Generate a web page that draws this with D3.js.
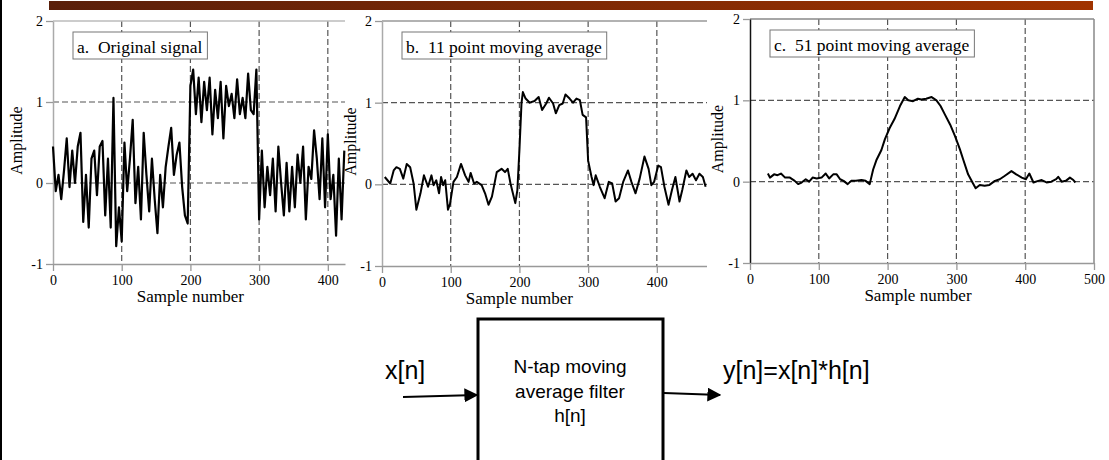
<!DOCTYPE html>
<html>
<head>
<meta charset="utf-8">
<script src="https://cdn.jsdelivr.net/npm/d3@7"></script>
<style>
  body { margin: 0; background: #fff; }
  svg { display: block; }
</style>
</head>
<body>
<svg id="chart" width="1109" height="460"></svg>
<script>
// ---- data ----
// original signal, one value every 4 samples starting at sample 0
const originalStep = 4;
const originalSignal = [
  0.45, -0.1, 0.1, -0.2, 0.15, 0.55, -0.05, 0.4, 0.0, 0.45,
  0.62, -0.48, 0.1, -0.55, 0.3, 0.4, -0.15, 0.45, 0.52, -0.4,
  0.3, -0.55, 1.05, -0.78, -0.3, -0.72, 0.5, -0.1, 0.3, 0.78,
  -0.25, 0.2, -0.45, 0.62, 0.1, -0.35, 0.3, -0.2, -0.62, 0.1,
  -0.3, 0.2, 0.45, 0.68, 0.1, 0.35, 0.5, -0.05, -0.4, -0.5,
  1.2, 1.4, 0.85, 1.3, 0.75, 1.25, 0.9, 1.3, 0.6, 1.15,
  0.8, 1.25, 0.55, 1.2, 0.95, 1.1, 0.8, 1.28, 0.85, 1.05,
  0.8, 1.35, 0.9, 0.85, 1.4,
  -0.45, 0.4, -0.3, 0.2, -0.15, 0.3, -0.35, 0.45, 0.0, -0.4,
  0.25, -0.35, 0.2, -0.3, 0.35, 0.0, 0.45, -0.45, 0.2, 0.05,
  0.65, 0.3, -0.2, 0.55, -0.3, 0.6, -0.2, 0.1, -0.65, 0.3,
  -0.45, 0.4
];

// [sample, amplitude]
const average11 = [
  [4,0.09],[12,0.01],[17,0.17],[21,0.21],[26,0.19],[31,0.07],[36,0.25],[41,0.21],[46,0.01],[50,-0.31],
  [56,-0.11],[61,0.11],[67,-0.03],[72,0.11],[75,-0.01],[79,0.05],[83,-0.11],[86,0.09],[89,-0.01],[92,0.05],
  [96,-0.31],[99,-0.24],[104,0.03],[109,0.09],[115,0.25],[121,0.11],[126,0.03],[129,0.14],[134,0.01],[138,0.03],
  [145,-0.01],[150,-0.11],[155,-0.25],[160,-0.15],[167,0.15],[174,0.19],[179,0.15],[183,0.19],[187,0.01],[194,-0.23],
  [197,-0.07],[200,0.42],[203,0.99],[205,1.13],[209,1.05],[215,1.0],[222,1.02],[228,1.07],[233,0.91],[239,0.99],
  [243,1.06],[249,0.99],[253,0.87],[258,0.97],[263,0.99],[267,1.1],[273,1.05],[278,1.0],[283,1.05],[288,1.03],
  [292,0.85],[297,0.82],[300,0.29],[305,0.09],[308,-0.01],[311,0.11],[317,-0.03],[324,-0.17],[330,0.03],[335,0.01],
  [340,-0.21],[345,-0.17],[351,0.03],[358,0.17],[363,0.03],[369,-0.11],[375,0.07],[382,0.34],[388,0.19],[392,-0.01],
  [396,0.03],[402,0.23],[406,0.21],[411,-0.03],[417,-0.25],[422,-0.07],[427,0.09],[433,-0.21],[437,-0.07],[443,0.17],
  [447,0.09],[452,0.13],[457,0.05],[462,0.13],[467,0.09],[471,-0.03]
];

const average51 = [
  [26,0.1],[29,0.05],[35,0.09],[40,0.08],[45,0.1],[51,0.05],[58,0.05],[65,0.01],[70,-0.03],[75,-0.01],
  [81,0.03],[86,0.0],[91,0.05],[97,0.04],[104,0.05],[110,0.1],[115,0.04],[121,0.09],[126,0.09],[131,0.03],
  [136,0.01],[142,-0.03],[147,0.01],[154,0.01],[162,0.02],[168,0.01],[174,-0.03],[179,0.15],[184,0.27],[191,0.39],
  [196,0.52],[203,0.66],[210,0.77],[218,0.93],[225,1.04],[230,1.0],[237,0.99],[244,1.02],[249,1.01],[256,1.02],
  [264,1.04],[271,1.0],[277,0.93],[283,0.83],[291,0.7],[298,0.56],[305,0.4],[310,0.27],[317,0.09],[324,-0.02],
  [328,-0.08],[334,-0.04],[341,-0.05],[348,-0.04],[356,0.01],[363,0.03],[370,0.07],[380,0.13],[387,0.09],[395,0.05],
  [401,0.03],[406,0.1],[412,-0.01],[419,0.01],[424,0.02],[431,-0.01],[438,0.0],[445,0.03],[448,0.06],[453,0.0],
  [459,0.01],[465,0.05],[470,0.02],[473,-0.01]
];

const yTicks = [-1, 0, 1, 2];
const yGrid = [0, 1];
const xTicksShort = [0, 100, 200, 300, 400];
const xTicksLong = [0, 100, 200, 300, 400, 500];
const xGrid = [100, 200, 300, 400];
const titles = ["a.  Original signal", "b.  11 point moving average", "c.  51 point moving average"];
const xLabel = "Sample number";
const yLabel = "Amplitude";

const svg = d3.select("#chart");
const serif = "'Liberation Serif', 'Times New Roman', serif";
const sans = "'Liberation Sans', Arial, sans-serif";

// slide frame: dark strip on the left and the brown title bar
svg.append("rect").attr("x", 0).attr("y", 0).attr("width", 2).attr("height", 460).attr("fill", "#000");
const defs = svg.append("defs");
const grad = defs.append("linearGradient").attr("id", "bar");
grad.append("stop").attr("offset", "0%").attr("stop-color", "#5a1f0a");
grad.append("stop").attr("offset", "100%").attr("stop-color", "#a03300");
svg.append("rect").attr("x", 49).attr("y", 1).attr("width", 1044).attr("height", 9).attr("fill", "url(#bar)");

function drawPanel(p) {
    const g = svg.append("g");

    if (p.bg) {
        g.append("rect").attr("x", p.bg[0]).attr("y", p.bg[1])
            .attr("width", p.bg[2]).attr("height", p.bg[3]).attr("fill", "#fff");
    }

    const x = d3.scaleLinear().domain([0, p.xMax]).range([p.left, p.right]);
    const y = d3.scaleLinear().domain([-1, 2]).range([p.bottom, p.top]);

    // dashed grid
    g.selectAll(".gx").data(xGrid).enter().append("line")
        .attr("x1", d => x(d)).attr("x2", d => x(d))
        .attr("y1", y(2)).attr("y2", y(-1))
        .attr("stroke", "#555").attr("stroke-width", 1.2).attr("stroke-dasharray", "6,3");
    g.selectAll(".gy").data(yGrid).enter().append("line")
        .attr("x1", x(0)).attr("x2", p.right)
        .attr("y1", d => y(d)).attr("y2", d => y(d))
        .attr("stroke", "#555").attr("stroke-width", 1.2).attr("stroke-dasharray", "6,3");

    // frame
    g.append("line").attr("x1", p.left).attr("x2", p.right).attr("y1", y(2)).attr("y2", y(2))
        .attr("stroke", p.frameColor).attr("stroke-width", 1.5);
    if (p.rightBorder) {
        g.append("line").attr("x1", p.right).attr("x2", p.right).attr("y1", y(2)).attr("y2", y(-1))
            .attr("stroke", p.frameColor).attr("stroke-width", 1.5);
    }

    const yAxis = g.append("g")
        .attr("transform", `translate(${p.left},0)`)
        .call(d3.axisLeft(y).tickValues(yTicks).tickFormat(d => String(d))
            .tickSize(7).tickSizeOuter(0).tickPadding(3));
    yAxis.select(".domain").attr("stroke", p.yAxisColor).attr("stroke-width", 1.5);
    yAxis.selectAll(".tick line").attr("stroke", "#999").attr("stroke-width", 1.3);

    const xAxis = g.append("g")
        .attr("transform", `translate(0,${p.bottom})`)
        .call(d3.axisBottom(x).tickValues(p.xTicks).tickSize(7).tickSizeOuter(0).tickPadding(4));
    xAxis.select(".domain").attr("stroke", "#999").attr("stroke-width", 1.5);
    xAxis.selectAll(".tick line").attr("stroke", "#999").attr("stroke-width", 1.3);

    g.selectAll(".tick text").attr("font-family", serif).attr("font-size", 14).attr("fill", "#000");

    // signal
    const line = d3.line().x(d => x(d[0])).y(d => y(d[1]));
    g.append("path").datum(p.data).attr("d", line)
        .attr("fill", "none").attr("stroke", "#000").attr("stroke-width", p.lineWidth)
        .attr("stroke-linejoin", "round");

    // title box
    const box = g.append("rect");
    const title = g.append("text")
        .attr("x", p.left + 24).attr("y", y(2) + 32)
        .attr("font-family", serif).attr("font-size", 17.5)
        .style("white-space", "pre")
        .text(p.title);
    const tw = title.node().getComputedTextLength();
    box.attr("x", p.left + 20).attr("y", y(2) + 11)
        .attr("width", tw + 9).attr("height", 27)
        .attr("fill", "#fff").attr("stroke", "#777").attr("stroke-width", 1);

    // axis labels
    g.append("text")
        .attr("x", (p.left + x(p.xTicks[p.xTicks.length - 1])) / 2 + p.labelShift)
        .attr("y", p.bottom + 38)
        .attr("text-anchor", "middle")
        .attr("font-family", serif).attr("font-size", 17)
        .text(xLabel);
    g.append("text")
        .attr("transform", `translate(${p.yLabelX},${(p.top + p.bottom) / 2 - 2}) rotate(-90)`)
        .attr("text-anchor", "middle")
        .attr("font-family", serif).attr("font-size", 16)
        .text(yLabel);
}

drawPanel({
    left: 53, right: 345, top: 21, bottom: 264, xMax: 425,
    xTicks: xTicksShort, frameColor: "#bbb", yAxisColor: "#aaa", rightBorder: false,
    data: originalSignal.map((v, i) => [i * originalStep, v]), lineWidth: 2.2,
    title: titles[0], labelShift: 0, yLabelX: 22
});

drawPanel({
    bg: [347, 11, 362, 300],
    left: 382, right: 707, top: 21, bottom: 266, xMax: 473,
    xTicks: xTicksShort, frameColor: "#999", yAxisColor: "#aaa", rightBorder: false,
    data: average11, lineWidth: 2,
    title: titles[1], labelShift: 0, yLabelX: 356
});

drawPanel({
    bg: [707, 10, 402, 300],
    left: 750, right: 1094, top: 19, bottom: 263, xMax: 500,
    xTicks: xTicksLong, frameColor: "#888", yAxisColor: "#111", rightBorder: true,
    data: average51, lineWidth: 2,
    title: titles[2], labelShift: -4, yLabelX: 723
});

// block diagram below the plots
const diagram = svg.append("g").attr("font-family", sans).attr("fill", "#000");
diagram.append("rect").attr("x", 478).attr("y", 319).attr("width", 185).attr("height", 200)
    .attr("fill", "none").attr("stroke", "#000").attr("stroke-width", 3);

const marker = defs.append("marker")
    .attr("id", "arrow").attr("viewBox", "0 0 10 10").attr("refX", 9).attr("refY", 5)
    .attr("markerWidth", 7).attr("markerHeight", 7).attr("markerUnits", "strokeWidth")
    .attr("orient", "auto");
marker.append("path").attr("d", "M0,0 L10,5 L0,10 Z").attr("fill", "#000");

diagram.append("line").attr("x1", 403).attr("y1", 397).attr("x2", 477).attr("y2", 395)
    .attr("stroke", "#000").attr("stroke-width", 2).attr("marker-end", "url(#arrow)");
diagram.append("line").attr("x1", 664).attr("y1", 393).attr("x2", 720).attr("y2", 395)
    .attr("stroke", "#000").attr("stroke-width", 2).attr("marker-end", "url(#arrow)");

diagram.append("text").attr("x", 385).attr("y", 379).attr("font-size", 25).text("x[n]");
diagram.append("text").attr("x", 723).attr("y", 379).attr("font-size", 25).text("y[n]=x[n]*h[n]");
const boxLines = ["N-tap moving", "average filter", "h[n]"];
diagram.selectAll(".bl").data(boxLines).enter().append("text")
    .attr("x", 570).attr("y", (d, i) => 373 + i * 24.5)
    .attr("text-anchor", "middle").attr("font-size", 19)
    .text(d => d);
</script>
</body>
</html>
